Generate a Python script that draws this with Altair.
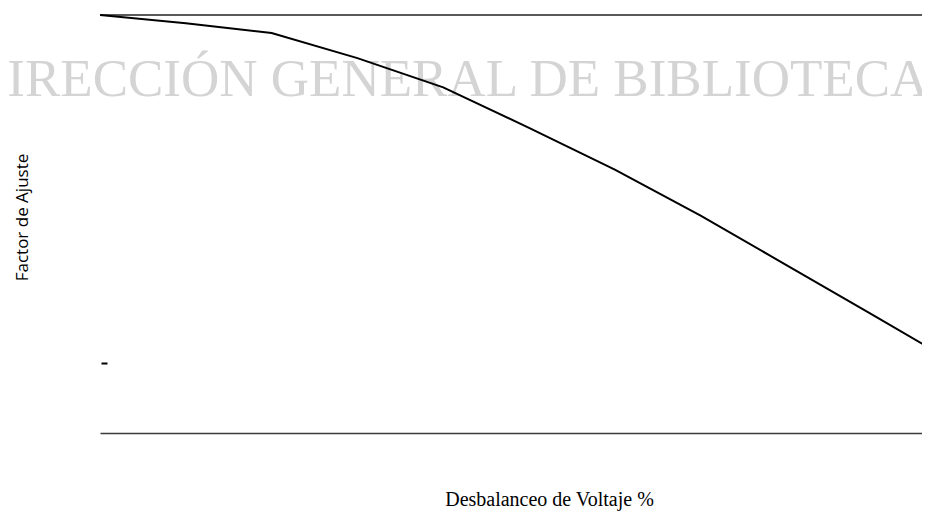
import altair as alt
import pandas as pd

# ---- data ----
unbalance_pct = [0, 0.5, 1, 1.5, 2, 2.5, 3, 3.5, 4, 4.5, 5]
factor = [1.0, 0.994, 0.987, 0.969, 0.948, 0.919, 0.889, 0.856, 0.8205, 0.785, 0.749]
ref_levels = [1.0]
tick_levels = [0.75]
x_domain = [0, 4.79]
y_domain = [0.7, 1.005]
watermark_text = ["DIRECCIÓN GENERAL DE BIBLIOTECA"]
x_title = "Desbalanceo de Voltaje %"
y_title = "Factor de Ajuste"

curve = pd.DataFrame({"x": unbalance_pct, "y": factor})
top = pd.DataFrame({"y": ref_levels})
wm = pd.DataFrame({"t": watermark_text})

xs = alt.Scale(domain=x_domain, nice=False, zero=False)
ys = alt.Scale(domain=y_domain, nice=False, zero=False)

x_axis = alt.Axis(
    title=x_title, domain=True, domainColor="#3a3a3a", domainWidth=1.5,
    ticks=False, labels=False, grid=False,
    titleFont="Liberation Serif", titleFontSize=20, titleFontWeight="normal",
    titleColor="black", titleX=449, titleY=72, titleAlign="center",
    titleBaseline="alphabetic",
)
y_axis = alt.Axis(
    title=y_title, values=tick_levels, domain=False, labels=False,
    ticks=True, tickSize=6, tickWidth=2, tickColor="black", offset=-7,
    grid=False, titleFont="Open Sans", titleFontSize=17,
    titleFontWeight="normal", titleColor="black", titleAngle=270,
    titleX=-80, titleY=209, titleAlign="center", titleBaseline="alphabetic",
)

watermark = alt.Chart(wm).mark_text(
    align="left", baseline="alphabetic", font="Liberation Serif",
    fontSize=53, color="#d4d4d4",
).encode(x=alt.value(-131), y=alt.value(88), text="t:N")

rule = alt.Chart(top).mark_rule(color="#222222", strokeWidth=1.5).encode(
    y=alt.Y("y:Q", scale=ys)
)

line = alt.Chart(curve).mark_line(color="black", strokeWidth=2, clip=True).encode(
    x=alt.X("x:Q", scale=xs, axis=x_axis),
    y=alt.Y("y:Q", scale=ys, axis=y_axis),
)

chart = (
    alt.layer(watermark, rule, line)
    .properties(
        width=822, height=425,
        autosize=alt.AutoSizeParams(type="none"),
        padding={"left": 92, "top": 0, "right": 0, "bottom": 84},
        background="white",
    )
    .configure_view(stroke=None)
)

chart.save("out.html", embed_options={"renderer": "svg", "actions": False})
